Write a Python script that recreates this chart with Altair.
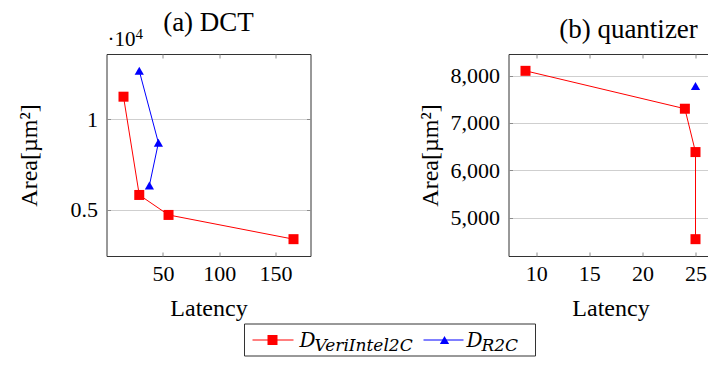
import altair as alt
import pandas as pd

# ---------------- data ----------------
series_names = ["VeriIntel2C", "R2C"]
series_colors = ["#ff0000", "#0000ff"]

# (a) DCT
dct_veri_lat = [15, 29, 55, 166]
dct_veri_area = [11250, 5815, 4710, 3370]
dct_r2c_lat = [29, 46, 38]
dct_r2c_area = [12680, 8700, 6340]

# (b) quantizer
q_veri_lat = [9, 24, 25, 25]
q_veri_area = [8100, 7300, 6385, 4546]
q_r2c_lat = [25]
q_r2c_area = [7780]

dct_xticks = [50, 100, 150]
dct_yticks = [5000, 10000]
q_xticks = [10, 15, 20, 25]
q_yticks = [5000, 6000, 7000, 8000]

panel_titles = ["(a) DCT", "(b) quantizer"]

FONT = "Liberation Serif"
FRAME = "#333333"
TICK = "#8c8c8c"
PW, PH = 204, 202


def make_df(veri_lat, veri_area, r2c_lat, r2c_area):
    rows = []
    for i, (a, b) in enumerate(zip(veri_lat, veri_area)):
        rows.append({"lat": a, "area": b, "series": series_names[0], "idx": i})
    for i, (a, b) in enumerate(zip(r2c_lat, r2c_area)):
        rows.append({"lat": a, "area": b, "series": series_names[1], "idx": i})
    return pd.DataFrame(rows)


def enlarge(vals):
    lo, hi = min(vals), max(vals)
    r = hi - lo
    return [lo - 0.1 * r, hi + 0.1 * r]


def panel(df, xticks, yticks, ylabel_expr, yformat, title, title_x, title_y,
          y_title_padding, extra=None, width=PW, height=PH, right_ticks=True):
    xdom = enlarge(list(df["lat"]))
    ydom = enlarge(list(df["area"]))
    xs = alt.Scale(domain=xdom, nice=False, zero=False)
    ys = alt.Scale(domain=ydom, nice=False, zero=False)
    color = alt.Color("series:N", scale=alt.Scale(domain=series_names, range=series_colors), legend=None)
    shape = alt.Shape("series:N", scale=alt.Scale(domain=series_names, range=["square", "triangle-up"]), legend=None)
    size = alt.Size("series:N", scale=alt.Scale(domain=series_names, range=[100, 85]), legend=None)

    yaxis_kw = dict(values=yticks, offset=-4, tickSize=4, domain=False, grid=True,
                    gridColor="#cfcfcf", gridWidth=1, tickColor=TICK,
                    labelPadding=9, title="Area[µm²]", titlePadding=y_title_padding)
    if ylabel_expr:
        yaxis_kw["labelExpr"] = ylabel_expr
    if yformat:
        yaxis_kw["format"] = yformat

    x_main = alt.X("lat:Q", scale=xs, axis=alt.Axis(values=xticks, offset=-4, tickSize=4, domain=False,
                                                      grid=False, tickColor=TICK, labelPadding=7,
                                                      title="Latency", titlePadding=12))
    y_main = alt.Y("area:Q", scale=ys, axis=alt.Axis(**yaxis_kw))

    lines = alt.Chart(df).mark_line(strokeWidth=1).encode(
        x=x_main, y=y_main, color=color, order="idx:Q", detail="series:N")
    pts = alt.Chart(df).mark_point(filled=True, opacity=1).encode(
        x=alt.X("lat:Q", scale=xs, axis=None), y=alt.Y("area:Q", scale=ys, axis=None),
        color=color, shape=shape, size=size)

    if right_ticks:
        y_t = alt.Y("area:Q", scale=ys, axis=alt.Axis(orient="right", values=yticks, offset=-4, tickSize=4,
                                                       domain=False, labels=False, grid=False,
                                                       tickColor=TICK, title=None))
    else:
        y_t = alt.Y("area:Q", scale=ys, axis=None)
    ticks_layer = alt.Chart(df).mark_point(opacity=0).encode(
        x=alt.X("lat:Q", scale=xs, axis=alt.Axis(orient="top", values=xticks, offset=-4, tickSize=4,
                                                  domain=False, labels=False, grid=False,
                                                  tickColor=TICK, title=None)),
        y=y_t,
    )
    tdf = pd.DataFrame({"t": [title]})
    title_mark = alt.Chart(tdf).mark_text(font=FONT, fontSize=27, align="center", baseline="alphabetic",
                                          color="#000").encode(
        x=alt.value(title_x), y=alt.value(title_y), text="t:N")
    layers = [lines, ticks_layer, pts, title_mark]
    if extra:
        layers += extra
    ch = alt.layer(*layers).resolve_axis(x="independent", y="independent").properties(
        width=width, height=height)
    return ch


# "·10^4" scale label for panel (a)
sc_df = pd.DataFrame({"t": ["·10"], "e": ["4"]})
sc_main = alt.Chart(sc_df).mark_text(font=FONT, fontSize=21, align="left", baseline="alphabetic",
                                     color="#000").encode(
    x=alt.value(1), y=alt.value(-8), text="t:N")
sc_exp = alt.Chart(sc_df).mark_text(font=FONT, fontSize=15, align="left", baseline="alphabetic",
                                    color="#000").encode(
    x=alt.value(29), y=alt.value(-15), text="e:N")

dct_df = make_df(dct_veri_lat, dct_veri_area, dct_r2c_lat, dct_r2c_area)
q_df = make_df(q_veri_lat, q_veri_area, q_r2c_lat, q_r2c_area)

left = panel(dct_df, dct_xticks, dct_yticks, "datum.value / 10000", None, panel_titles[0], 102, -23, 29,
             extra=[sc_main, sc_exp])
right = panel(q_df, q_xticks, q_yticks, None, ",.0f", panel_titles[1], 120, -16, 8, right_ticks=False)

# ---------------- legend ----------------
leg_df = pd.DataFrame({"series": series_names, "sub": series_names})
LFONT = "DejaVu Serif"
LY = 16
box = alt.Chart(pd.DataFrame({"k": [0]})).mark_rect(fill="white", stroke=FRAME, strokeWidth=1).encode(
    x=alt.value(138), x2=alt.value(429), y=alt.value(0), y2=alt.value(32))
leg_items = []
item_pos = [(146, 187, 166, 193, 208), (317, 357, 338, 360, 375)]
shapes = ["square", "triangle-up"]
sizes = [100, 85]
for i, name in enumerate(series_names):
    x1, x2, xm, xd, xs_ = item_pos[i]
    d = leg_df[leg_df["series"] == name]
    leg_items.append(alt.Chart(d).mark_rule(color=series_colors[i], strokeWidth=1).encode(
        x=alt.value(x1), x2=alt.value(x2), y=alt.value(LY)))
    leg_items.append(alt.Chart(d).mark_point(filled=True, opacity=1, color=series_colors[i],
                                             shape=shapes[i], size=sizes[i]).encode(
        x=alt.value(xm), y=alt.value(LY)))
    leg_items.append(alt.Chart(d).mark_text(font=LFONT, fontStyle="italic", fontSize=20, align="left",
                                            baseline="alphabetic", color="#000", text="D").encode(
        x=alt.value(xd), y=alt.value(LY + 6.5)))
    leg_items.append(alt.Chart(d).mark_text(font=LFONT, fontStyle="italic", fontSize=17, align="left",
                                            baseline="alphabetic", color="#000").encode(
        x=alt.value(xs_), y=alt.value(LY + 11), text="sub:N"))

legend = alt.layer(box, *leg_items).properties(
    width=434, height=32, view=alt.ViewBackground(stroke="transparent"))

top = alt.hconcat(left, right, spacing=198, bounds="flush")
# the right panel runs past the page edge, as in the reference: clip it there
chart = alt.vconcat(top, legend, spacing=270, bounds="flush").properties(
    padding={"left": 8.5, "top": 0, "right": -6, "bottom": 0}
).configure_view(stroke=FRAME, strokeWidth=1).configure_axis(
    labelFont=FONT, labelFontSize=22, labelColor="#000", titleFont=FONT, titleFontSize=24,
    titleFontWeight="normal", titleColor="#000"
)

chart.save("out.html", embed_options={"renderer": "svg", "actions": False})
